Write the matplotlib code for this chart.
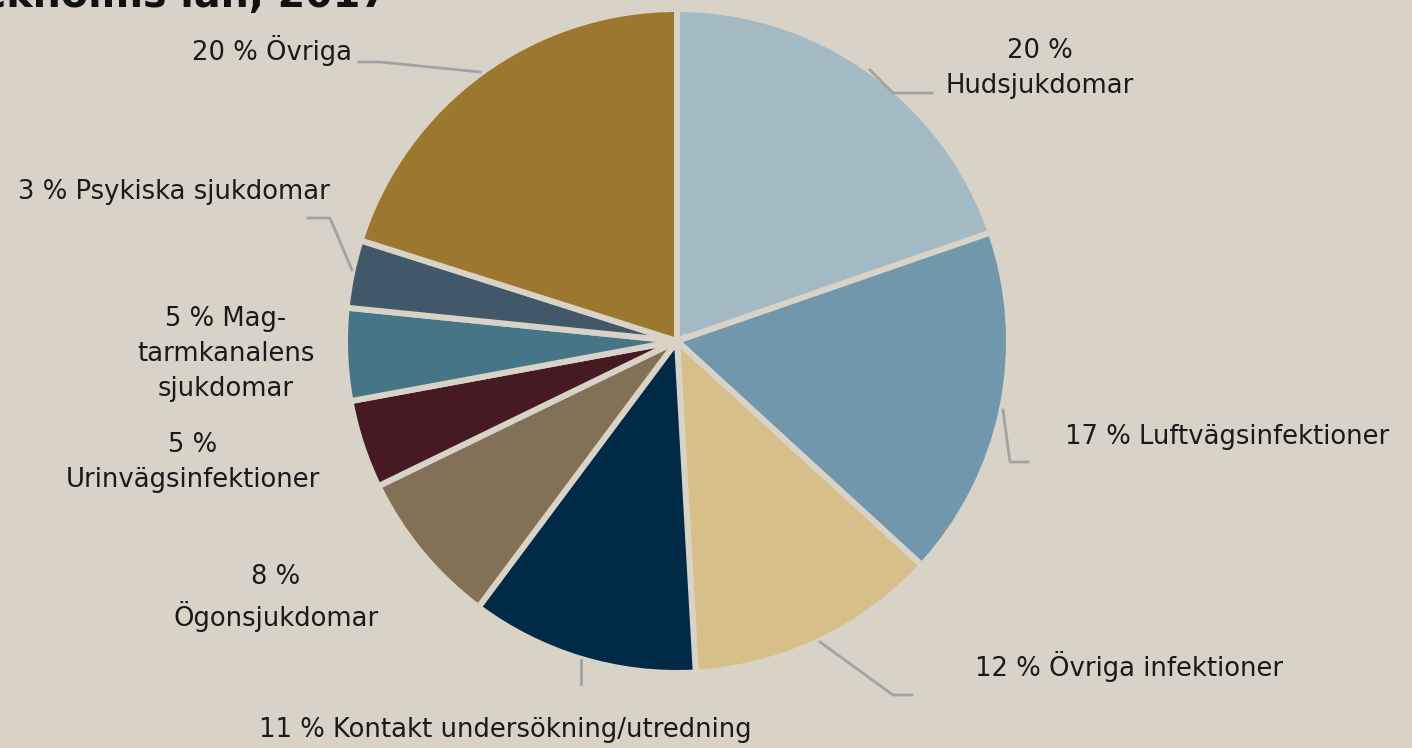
import matplotlib.pyplot as plt

# Andel per diagnosgrupp (procent)
categories = ['Hudsjukdomar', 'Luftvägsinfektioner', 'Övriga infektioner',
              'Kontakt undersökning/utredning', 'Ögonsjukdomar', 'Urinvägsinfektioner',
              'Mag-tarmkanalens sjukdomar', 'Psykiska sjukdomar', 'Övriga']
shares = [19.7, 17.1, 12.3, 11.1, 7.6, 4.3, 4.5, 3.3, 20.1]
label_texts = ['20 %\nHudsjukdomar', '17 % Luftvägsinfektioner', '12 % Övriga infektioner',
               '11 % Kontakt undersökning/utredning', '8 %\nÖgonsjukdomar',
               '5 %\nUrinvägsinfektioner', '5 % Mag-\ntarmkanalens\nsjukdomar',
               '3 % Psykiska sjukdomar', '20 % Övriga']
colors = ['#A3B9C4', '#7197AD', '#D7BF8A', '#002A45', '#827057',
          '#461A22', '#467587', '#425868', '#9B7730']

bg = '#D9D3C7'
W, H = 1412, 748

plt.rcParams['font.family'] = ['DejaVu Sans']

fig = plt.figure(figsize=(W / 100, H / 100), dpi=100)
fig.patch.set_facecolor(bg)
ax = fig.add_axes([0, 0, 1, 1])
ax.set_facecolor(bg)

cx, cy, r = 677, H - 341, 332
ax.pie(shares, colors=colors, startangle=90, counterclock=False,
       center=(cx, cy), radius=r, frame=True,
       wedgeprops=dict(edgecolor=bg, linewidth=4.3))
ax.set_xlim(0, W)
ax.set_ylim(0, H)
ax.set_aspect('equal')
ax.axis('off')

# etiketter: (x, y i pixlar från toppen, justering)
label_pos = [(1040, 68, 'center'), (1065, 437, 'left'), (975, 667, 'left'),
             (505, 730, 'center'), (276, 598, 'center'), (193, 462, 'center'),
             (226, 354, 'center'), (18, 192, 'left'), (352, 50, 'right')]
for txt, (x, y, ha) in zip(label_texts, label_pos):
    ax.text(x, H - y, txt, ha=ha, va='center', fontsize=18.6, color='#1a1a1a',
            linespacing=1.45, multialignment='center')

# hänvisningslinjer
leaders = [
    [(870, 70), (893, 93), (932, 93)],
    [(1003, 410), (1010, 462), (1028, 462)],
    [(820, 642), (893, 695), (912, 695)],
    [(581, 660), (581, 684)],
    [(308, 218), (330, 218), (352, 270)],
    [(359, 62), (380, 62), (480, 72)],
]
for pts in leaders:
    xs = [p[0] for p in pts]
    ys = [H - p[1] for p in pts]
    ax.plot(xs, ys, color='#A3A3A3', linewidth=2)

# titel, delvis utanför bild (som i förlagan)
ax.text(388, H - 7, 'Stockholms län, 2017', ha='right', va='baseline',
        fontsize=28.5, fontweight='bold', color='#111111', clip_on=False)

fig.savefig('out.png', dpi=100, facecolor=bg)
